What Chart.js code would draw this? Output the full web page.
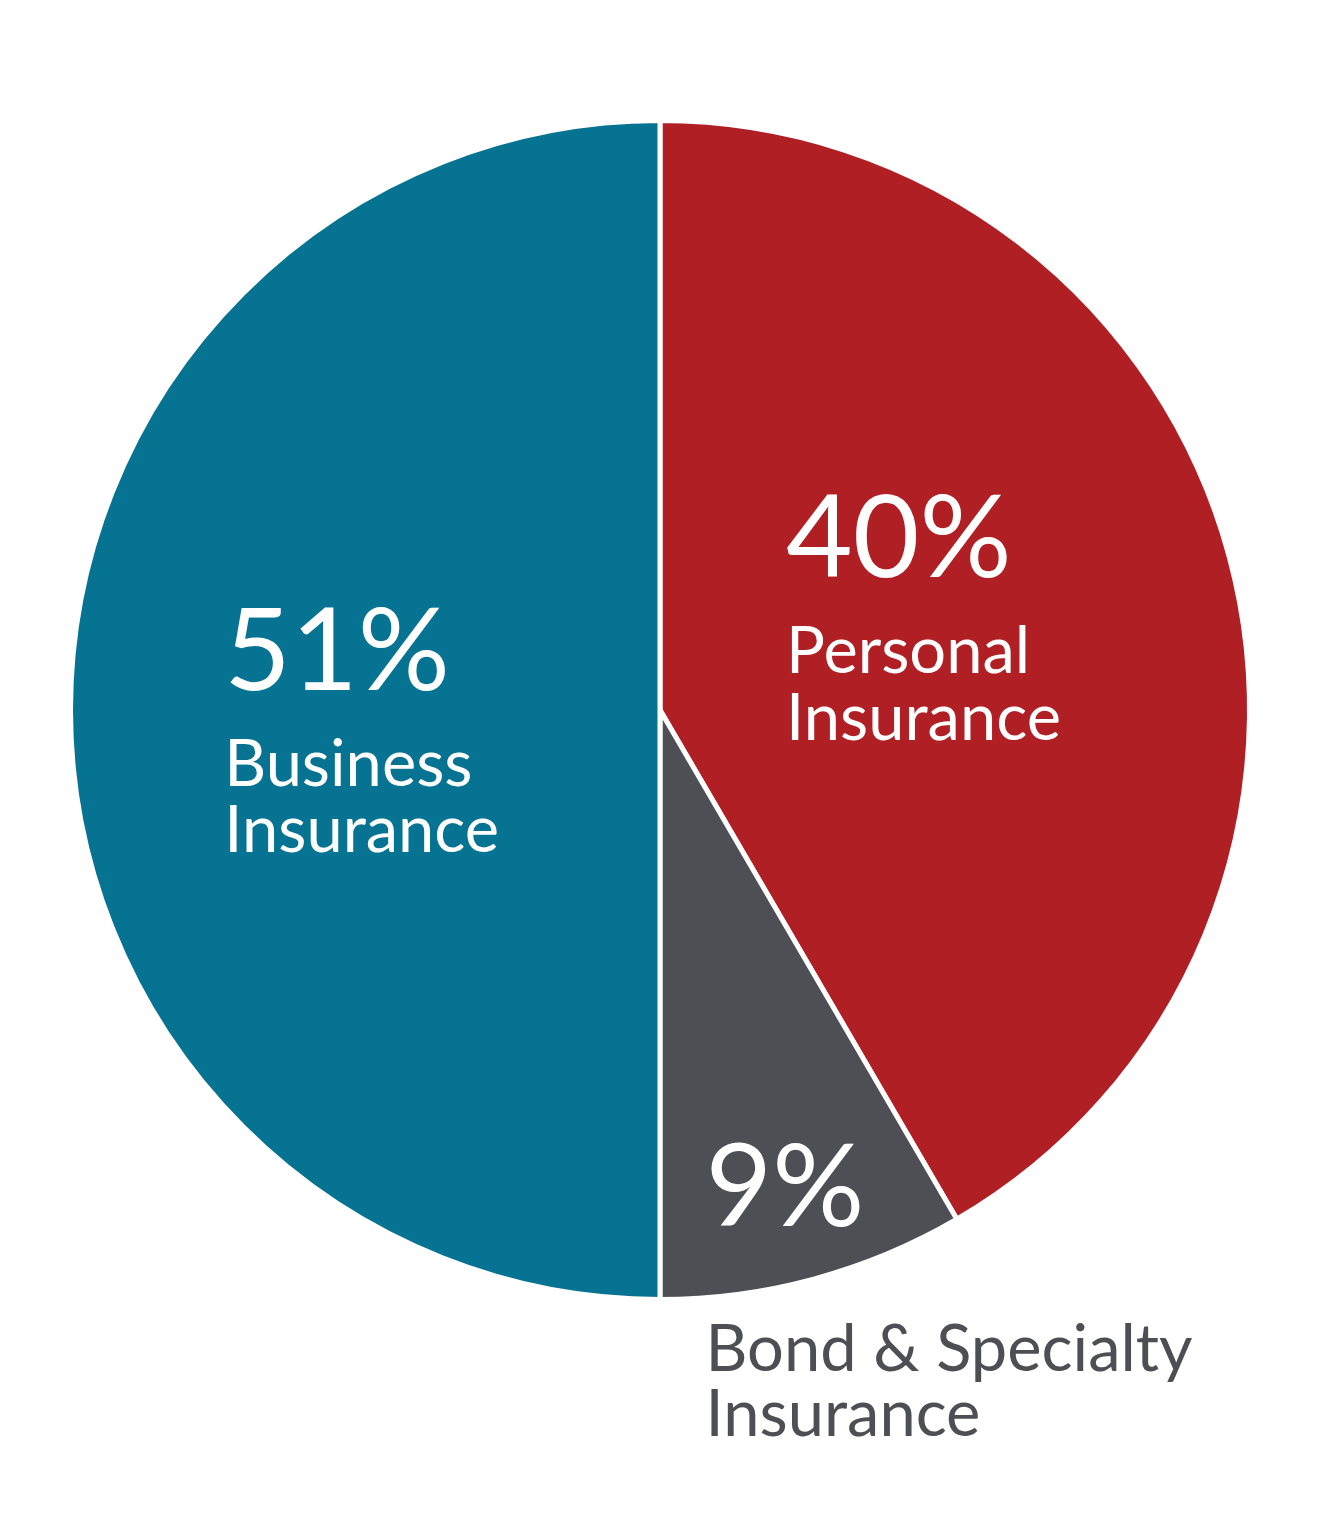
<!DOCTYPE html>
<html>
<head>
<meta charset="utf-8">
<script src="https://cdn.jsdelivr.net/npm/chart.js@4"></script>
<style>
  html, body { margin: 0; padding: 0; background: #ffffff; }
  #wrap { width: 1329px; height: 1521px; }
</style>
</head>
<body>
<div id="wrap"><canvas id="pieChart" width="1329" height="1521"></canvas></div>
<script>
// Segments, clockwise from 12 o'clock
const categories = ['Personal Insurance', 'Bond & Specialty Insurance', 'Business Insurance'];
// slice sizes as drawn (share of the circle, %)
const sliceShares = [41.6, 8.4, 50.0];
// percentages printed on the chart
const percentLabels = ['40%', '9%', '51%'];
const nameLines = [['Personal', 'Insurance'], ['Bond & Specialty', 'Insurance'], ['Business', 'Insurance']];
const sliceColors = ['#AF1F24', '#4E4F54', '#067392'];

// where each label sits, relative to the pie centre, in units of the radius
const labelSpots = [
  { dx: 0.213, pct: -0.225, lines: [-0.063, 0.051], color: '#ffffff' },
  { dx: 0.077, pct: 0.872, lines: [1.116, 1.227], color: '#4E4F54', pctColor: '#ffffff' },
  { dx: -0.736, pct: -0.034, lines: [0.129, 0.240], color: '#ffffff' }
];

// Plugin that writes the labels on top of the slices
const sliceLabels = {
  id: 'sliceLabels',
  afterDatasetsDraw(chart) {
    const arcs = chart.getDatasetMeta(0).data;
    const c = chart.ctx;
    c.save();
    c.textAlign = 'left';
    c.textBaseline = 'alphabetic';
    arcs.forEach((arc, i) => {
      const r = arc.outerRadius + 2.5;
      const k = r / 587;
      const spot = labelSpots[i];
      const x = arc.x + spot.dx * r;
      c.fillStyle = spot.pctColor || spot.color;
      c.font = `400 ${Math.round(114 * k)}px Lato`;
      c.fillText(percentLabels[i], x, arc.y + spot.pct * r);
      c.fillStyle = spot.color;
      c.font = `400 ${Math.round(64 * k)}px Lato`;
      nameLines[i].forEach((line, j) => {
        c.fillText(line, x, arc.y + spot.lines[j] * r);
      });
    });
    c.restore();
  }
};

const ctx = document.getElementById('pieChart').getContext('2d');

const pieChart = new Chart(ctx, {
  type: 'pie',
  data: {
    labels: categories,
    datasets: [{
      data: sliceShares,
      backgroundColor: sliceColors,
      borderColor: '#ffffff',
      borderWidth: 5,
      hoverOffset: 0
    }]
  },
  options: {
    responsive: false,
    animation: false,
    layout: { padding: { left: 68, right: 77, top: 118, bottom: 219 } },
    plugins: {
      legend: { display: false },
      tooltip: { enabled: false }
    }
  },
  plugins: [sliceLabels]
});
</script>
</body>
</html>
